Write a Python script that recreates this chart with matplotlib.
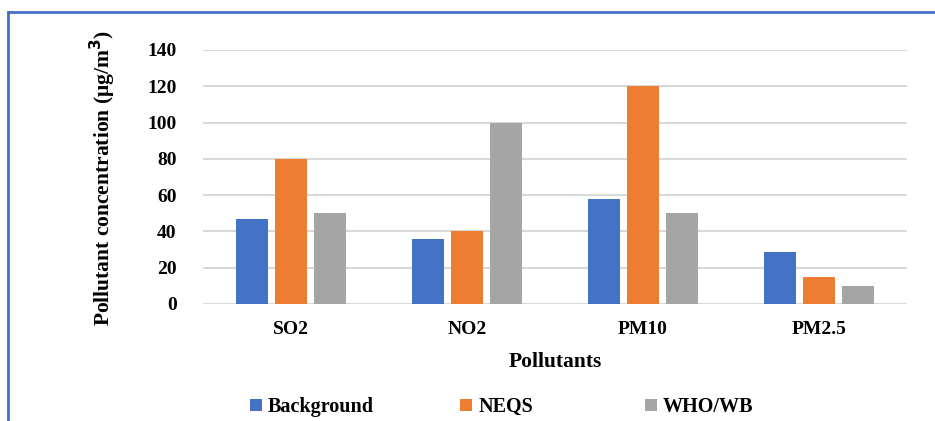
import matplotlib.pyplot as plt
import numpy as np
from matplotlib.lines import Line2D

plt.rcParams['font.family'] = ['Liberation Serif', 'DejaVu Serif']
plt.rcParams['font.weight'] = 'bold'

pollutants = ['SO2', 'NO2', 'PM10', 'PM2.5']
background = [47, 36, 58, 28.5]
neqs = [80, 40, 120, 15]
who_wb = [50, 100, 50, 10]

series = [('Background', background, '#4472c4'),
          ('NEQS', neqs, '#ed7d31'),
          ('WHO/WB', who_wb, '#a5a5a5')]

fig = plt.figure(figsize=(9.35, 4.21), dpi=100)
ax = fig.add_axes([203 / 935, 1 - 304 / 421, 704 / 935, 254 / 421])

x = np.arange(len(pollutants))
width = 0.178
step = 0.222
bars = []
for i, (name, vals, col) in enumerate(series):
    bars.append(ax.bar(x + (i - 1) * step, vals, width, color=col, label=name, zorder=3))

ax.set_xlim(-0.5, len(pollutants) - 0.5)
ax.set_ylim(0, 140)
ax.set_yticks(range(0, 141, 20))
ax.grid(axis='y', color='#d9d9d9', linewidth=1.5, zorder=0)
for s in ax.spines.values():
    s.set_visible(False)
ax.tick_params(length=0, labelsize=14, pad=19)
ax.tick_params(axis='x', pad=12)
ax.set_xticks(x)
ax.set_xticklabels(pollutants)

ax.set_xlabel('Pollutants', fontsize=15.5, fontweight='bold', labelpad=10)
fig.text(0.110, 1 - 178 / 421, r'Pollutant concentration (μg/m$^{\mathbf{3}}$)',
         rotation=90, ha='center', va='center', fontsize=15.5, fontweight='bold')

# one legend entry per slot, Excel-style spacing
slots = [250, 460, 645]
for b, (name, _, _), px in zip(bars, series, slots):
    fig.legend([b], [name], loc='center left', bbox_to_anchor=(px / 935, 1 - 407 / 421),
               frameon=False, fontsize=14.5, handlelength=0.6, handleheight=0.6,
               handletextpad=0.3, borderpad=0, borderaxespad=0)

# frame of the chart area
fig.add_artist(Line2D([8 / 935, 8 / 935], [0, 1 - 12 / 421], color='#4472c4',
                      linewidth=2, transform=fig.transFigure))
fig.add_artist(Line2D([8 / 935, 1], [1 - 12 / 421, 1 - 12 / 421], color='#4472c4',
                      linewidth=2, transform=fig.transFigure))

fig.savefig('out.png', dpi=100)
